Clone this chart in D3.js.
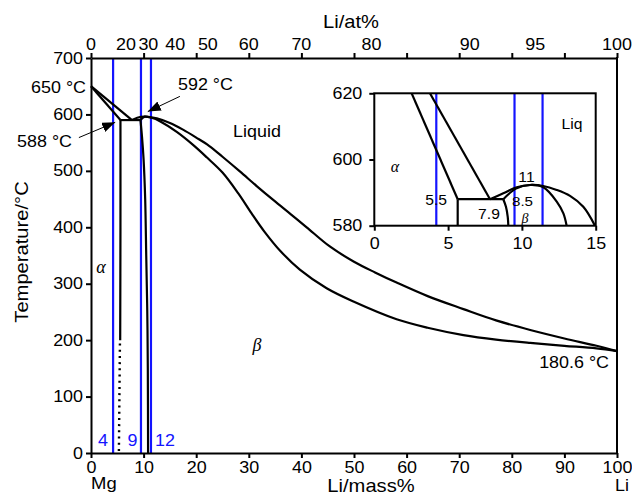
<!DOCTYPE html>
<html><head><meta charset="utf-8">
<script src="https://cdn.jsdelivr.net/npm/d3@7"></script>
<style>
body{margin:0;background:#fff}
svg{display:block}
text{font-family:"Liberation Sans",Arial,Helvetica,sans-serif;fill:#000}
</style>
</head><body>
<svg id="chart" width="632" height="496"></svg>
<script>
// ---------- data ----------
const massTicks = [0,10,20,30,40,50,60,70,80,90,100];
const atLabels = [0,20,30,40,50,60,70,80,90,95,100];
const tempTicks = [0,100,200,300,400,500,600,700];

const alphaLiquidus = [[0,650],[7.8,590]];
const betaLiquidus = [[7.8,590],[8.8,594],[10.2,596],[11.5,595],[12.5,593],[15,585],[17.5,573],[20,559],[22.5,544],[25,525],[28.3,499],[31.5,473],[34.7,448],[38,423],[41,400],[45.4,366],[50,339],[54,320],[58.1,302],[64,278],[70.8,255],[77,235],[83.5,218],[90,203],[96.1,190],[100,180.6]];
const alphaSolidus = [[0,650],[5.6,590]];
const betaSolidus = [[9.4,590],[10.2,596],[11.5,594],[13.1,588],[16.3,569],[19.4,546],[22,524],[25,497],[28,460],[30.5,425],[33,392],[36,358],[39.7,325],[44.8,292],[50,268],[58.1,237],[64,222],[70.8,209],[77,201],[83.5,195],[90,190],[96.1,185.5],[100,180.6]];
const peritectic = [[5.6,590],[9.4,590]];
const alphaSolvus = [[5.6,590],[5.6,400],[5.55,200]];
const alphaSolvusDotted = [[5.5,194],[5.3,0]];
const betaSolvus = [[9.4,590],[9.7,560],[10.0,520],[10.3,450],[10.5,350],[10.7,250],[10.8,150],[10.85,0]];
const guideMass = [4.2,9.5,11.4];
const guideLabels = ["4","9","12"];
const arrow588 = [[-2.3,559],[4.6,586]];
const arrow592 = [[16.9,632],[10.8,605]];

// inset
const insetXTicks = [0,5,10,15];
const insetYTicks = [580,600,620];
const insetAlphaLiquidus = [[3.77,620],[7.84,588]];
const insetBetaLiquidus = [[7.84,588],[8.74,589.8],[9.65,591.6],[10.55,592.3],[11.45,592.0],[12.36,590.8],[13.26,589.0],[14.16,585.7],[14.95,580]];
const insetAlphaSolidus = [[2.53,620],[5.65,588]];
const insetBetaSolidus = [[8.74,588],[9.6,591.2],[10.55,592.3],[11.45,591.6],[12.36,587.3],[12.81,583.7],[13.03,580]];
const insetPeritectic = [[5.65,588],[8.74,588]];
const insetAlphaSolvus = [[5.65,588],[5.65,580]];
const insetBetaSolvus = [[8.74,588],[8.92,585.7],[9.04,582.7],[9.08,580]];

// ---------- setup ----------
const SX = 1.12;
const blue = "#1414ff";
const svg = d3.select("#chart");
const x = d3.scaleLinear().domain([0,100]).range([91,617]);
const y = d3.scaleLinear().domain([0,700]).range([453,58]);
const xi = d3.scaleLinear().domain([0,15]).range([374.3,595.7]);
const yi = d3.scaleLinear().domain([580,620]).range([225.7,93.3]);

const atToMass = a => a*6.941/(a*6.941+(100-a)*24.305)*100;

function label(parent, px, py, s, opt={}) {
  const g = parent.append("g").attr("transform",`translate(${px},${py})${opt.rot?` rotate(${opt.rot})`:""} scale(${opt.noScale?1:SX},1)`);
  const t = g.append("text").attr("x",0).attr("y",0)
    .attr("text-anchor",opt.anchor||"start")
    .style("font-size",(opt.size||16)+"px")
    .text(s);
  if (opt.fill) t.style("fill",opt.fill);
  if (opt.serif) t.style("font-family",'"Liberation Serif","Times New Roman",serif').style("font-style","italic");
  return t;
}
function stretchAxisText(g){
  g.selectAll(".tick text").each(function(){
    const t=d3.select(this);
    const tx=+t.attr("x")||0, ty=+t.attr("y")||0;
    t.attr("x",0).attr("y",0).attr("transform",`translate(${tx},${ty}) scale(${SX},1)`);
  });
}
function styleAxis(g){
  g.select(".domain").attr("stroke","#000").attr("stroke-width",2);
  g.selectAll(".tick line").attr("stroke","#000").attr("stroke-width",2);
  g.selectAll(".tick text").style("font-size","16px").style("font-family",'"Liberation Sans",Arial,sans-serif').attr("fill","#000");
}

const curve = d3.curveCatmullRom.alpha(0.5);
const lineMain = d3.line().x(d=>x(d[0])).y(d=>y(d[1])).curve(curve);
const lineInset = d3.line().x(d=>xi(d[0])).y(d=>yi(d[1])).curve(curve);

// ---------- blue guide lines (main) ----------
svg.append("g").selectAll("line").data(guideMass).join("line")
  .attr("x1",d=>x(d)).attr("x2",d=>x(d)).attr("y1",y(0)).attr("y2",y(700))
  .attr("stroke",blue).attr("stroke-width",2.2);

// ---------- main phase boundaries ----------
const main = svg.append("g").attr("fill","none").attr("stroke","#000").attr("stroke-width",2.2);
[alphaLiquidus,betaLiquidus,alphaSolidus,betaSolidus,peritectic,alphaSolvus,betaSolvus].forEach(d=>{
  main.append("path").attr("d",lineMain(d));
});
main.append("path").attr("d",lineMain(alphaSolvusDotted)).attr("stroke-dasharray","2,4.2").attr("stroke-width",2.4);

// ---------- axes ----------
const gB = svg.append("g").attr("transform",`translate(0,${y(0)})`)
  .call(d3.axisBottom(x).tickValues(massTicks).tickSize(5).tickSizeOuter(0).tickPadding(4));
styleAxis(gB); stretchAxisText(gB);
const gL = svg.append("g").attr("transform",`translate(${x(0)},0)`)
  .call(d3.axisLeft(y).tickValues(tempTicks).tickSize(5).tickSizeOuter(0).tickPadding(3));
styleAxis(gL); stretchAxisText(gL);
const gT = svg.append("g").attr("transform",`translate(0,${y(700)})`)
  .call(d3.axisTop(x).tickValues(massTicks).tickSize(5).tickSizeOuter(0).tickFormat(""));
styleAxis(gT);
svg.append("line").attr("x1",x(100)).attr("x2",x(100)).attr("y1",y(700)-1).attr("y2",y(0)+1)
  .attr("stroke","#000").attr("stroke-width",2);

// top at% labels
const topLab = svg.append("g");
atLabels.forEach(a=>{
  label(topLab, x(atToMass(a)), 50, String(a), {anchor:"middle", size:16});
});

// axis titles
label(svg, 351, 28, "Li/at%", {anchor:"middle", size:18});
label(svg, 371, 491.5, "Li/mass%", {anchor:"middle", size:18});
label(svg, 28, 252, "Temperature/°C", {anchor:"middle", size:18, rot:-90});
label(svg, x(0), 489, "Mg", {anchor:"start", size:16.5});
label(svg, x(100)+12, 491, "Li", {anchor:"end", size:16});

// annotations
label(svg, 86, 93, "650 °C", {anchor:"end"});
label(svg, 72, 147, "588 °C", {anchor:"end"});
label(svg, 178, 90, "592 °C", {anchor:"start"});
label(svg, 609, 368, "180.6 °C", {anchor:"end"});
label(svg, 257, 136.5, "Liquid", {anchor:"middle"});
label(svg, 101, 273, "α", {anchor:"middle", size:18, serif:true, noScale:true});
label(svg, 257, 351, "β", {anchor:"middle", size:18, serif:true, noScale:true});
guideLabels.forEach((s,i)=>{
  const offs = [-10, -8.5, 14];
  label(svg, x(guideMass[i])+offs[i], 445.5, s, {anchor:"middle", fill:blue});
});

// arrows
const defs = svg.append("defs");
defs.append("marker").attr("id","ah").attr("markerUnits","userSpaceOnUse")
  .attr("markerWidth",14).attr("markerHeight",10).attr("refX",13).attr("refY",5)
  .attr("orient","auto")
  .append("path").attr("d","M0,0 L13,5 L0,10 Z").attr("fill","#000");
[arrow588,arrow592].forEach(a=>{
  svg.append("line").attr("x1",x(a[0][0])).attr("y1",y(a[0][1]))
    .attr("x2",x(a[1][0])).attr("y2",y(a[1][1]))
    .attr("stroke","#000").attr("stroke-width",1).attr("marker-end","url(#ah)");
});

// ---------- inset ----------
const inset = svg.append("g");
defs.append("clipPath").attr("id","clipI").append("rect")
  .attr("x",xi(0)).attr("y",yi(620)).attr("width",xi(15)-xi(0)).attr("height",yi(580)-yi(620));
inset.append("rect").attr("x",xi(0)).attr("y",yi(620)).attr("width",xi(15)-xi(0)).attr("height",yi(580)-yi(620))
  .attr("fill","#fff");
const ic = inset.append("g").attr("clip-path","url(#clipI)");
ic.selectAll("line.g").data(guideMass).join("line")
  .attr("x1",d=>xi(d)).attr("x2",d=>xi(d)).attr("y1",yi(580)).attr("y2",yi(620))
  .attr("stroke",blue).attr("stroke-width",2.2);
const ip = ic.append("g").attr("fill","none").attr("stroke","#000").attr("stroke-width",2.2);
[insetAlphaLiquidus,insetBetaLiquidus,insetAlphaSolidus,insetBetaSolidus,insetPeritectic,insetAlphaSolvus,insetBetaSolvus].forEach(d=>{
  ip.append("path").attr("d",lineInset(d));
});
inset.append("rect").attr("x",xi(0)).attr("y",yi(620)).attr("width",xi(15)-xi(0)).attr("height",yi(580)-yi(620))
  .attr("fill","none").attr("stroke","#000").attr("stroke-width",2);
const iB = inset.append("g").attr("transform",`translate(0,${yi(580)})`)
  .call(d3.axisBottom(xi).tickValues(insetXTicks).tickSize(5).tickSizeOuter(0).tickPadding(7));
styleAxis(iB); stretchAxisText(iB); iB.select(".domain").remove();
const iL = inset.append("g").attr("transform",`translate(${xi(0)},0)`)
  .call(d3.axisLeft(yi).tickValues(insetYTicks).tickSize(5).tickSizeOuter(0).tickPadding(7));
styleAxis(iL); stretchAxisText(iL); iL.select(".domain").remove();

label(inset, 572, 129, "Liq", {anchor:"middle", size:14});
label(inset, 395, 171.5, "α", {anchor:"middle", size:16, serif:true, noScale:true});
label(inset, 447, 205, "5.5", {anchor:"end", size:14});
label(inset, 489, 219, "7.9", {anchor:"middle", size:14});
label(inset, 522.5, 205.5, "8.5", {anchor:"middle", size:13.5});
label(inset, 526.5, 181.5, "11", {anchor:"middle", size:14});
label(inset, 525, 222.5, "β", {anchor:"middle", size:14, serif:true, noScale:true});
</script>
</body></html>
